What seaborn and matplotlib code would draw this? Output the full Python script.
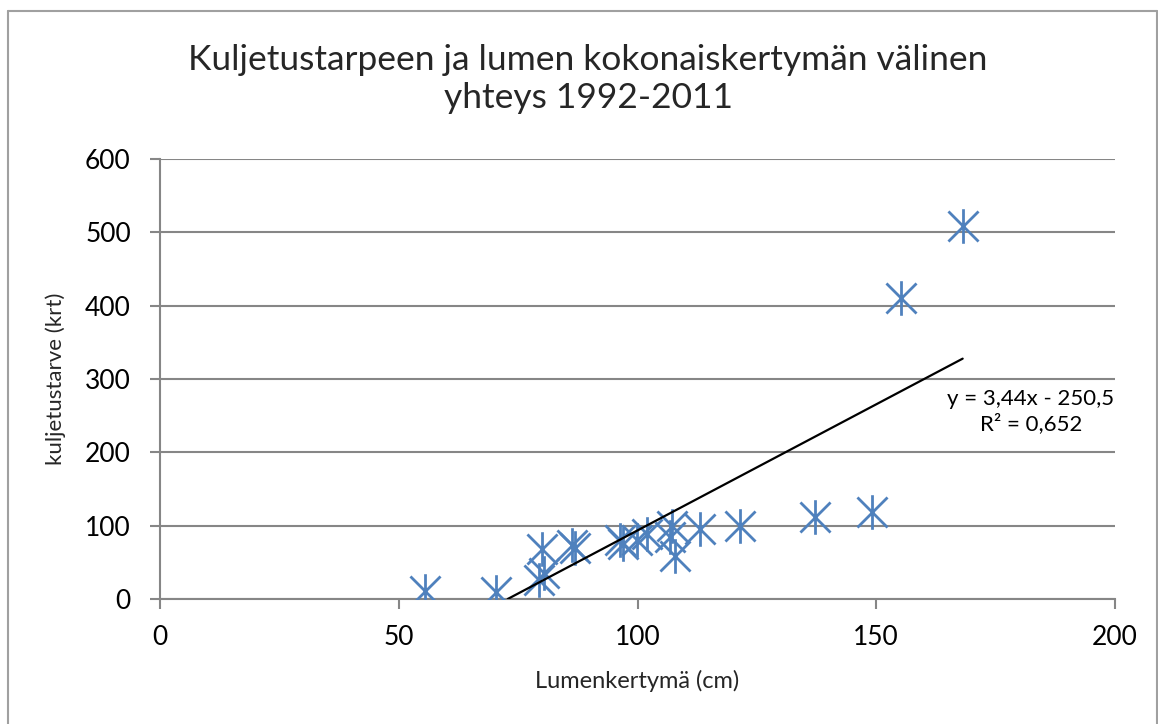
import numpy as np
import pandas as pd
import matplotlib
matplotlib.use("Agg")
import matplotlib.pyplot as plt
from matplotlib.path import Path
from matplotlib.lines import Line2D
import seaborn as sns

# --- Daten ---
lumenkertyma_cm = [55.4, 70.4, 79.9, 79.4, 80.5, 86.2, 87.0, 96.3, 97.0, 99.8,
                   101.9, 107.2, 107.9, 106.8, 113.1, 121.4, 137.2, 149.2, 155.1, 168.1]
kuljetustarve_krt = [11, 10, 68, 26, 35, 74, 70, 80, 75, 80,
                     89, 99, 58, 85, 96, 100, 112, 118, 411, 509]
trend_slope = 3.44
trend_intercept = -250.5
trend_label = "y = 3,44x - 250,5\nR² = 0,652"

title_text = "Kuljetustarpeen ja lumen kokonaiskertymän välinen\nyhteys 1992-2011"
x_label = "Lumenkertymä (cm)"
y_label = "kuljetustarve (krt)"
x_ticks = [0, 50, 100, 150, 200]
y_ticks = [0, 100, 200, 300, 400, 500, 600]

df = pd.DataFrame({"lumi": lumenkertyma_cm, "kuljetus": kuljetustarve_krt})

sns.set_theme(style="white")
plt.rcParams["font.family"] = ["Lato", "DejaVu Sans"]

BLUE = "#4F81BD"
GRID = "#868686"

fig = plt.figure(figsize=(11.58, 7.24), dpi=100)
ax = fig.add_axes([160 / 1158, 1 - 599 / 724, (1115 - 160) / 1158, (599 - 159) / 724])

# Excel-Stern: X mit senkrechtem Strich
star = Path([(-1, -1), (1, 1), (-1, 1), (1, -1), (0, -1.15), (0, 1.15)],
            [Path.MOVETO, Path.LINETO, Path.MOVETO, Path.LINETO, Path.MOVETO, Path.LINETO])

sns.scatterplot(data=df, x="lumi", y="kuljetus", ax=ax, marker=star, s=620,
                color=BLUE, edgecolor=BLUE, linewidth=2.0, legend=False, zorder=3)

# lineare Trendlinie, bei y=0 abgeschnitten
x0 = -trend_intercept / trend_slope
x1 = max(lumenkertyma_cm)
ax.plot([x0, x1], [trend_slope * x0 + trend_intercept, trend_slope * x1 + trend_intercept],
        color="black", linewidth=1.6, zorder=4)
ax.text(0.912, 0.425, trend_label, transform=ax.transAxes, ha="center", va="center",
        fontsize=16, linespacing=1.25, color="black")

ax.set_xlim(0, 200)
ax.set_ylim(0, 600)
ax.set_xticks(x_ticks)
ax.set_yticks(y_ticks)
ax.yaxis.grid(True, color=GRID, linewidth=1.5)
ax.xaxis.grid(False)
ax.set_axisbelow(True)
for side in ["top", "right"]:
    ax.spines[side].set_visible(False)
for side in ["left", "bottom"]:
    ax.spines[side].set_color(GRID)
    ax.spines[side].set_linewidth(1.5)
ax.tick_params(axis="both", which="major", direction="out", length=7, width=1.5,
               color=GRID, labelsize=19, labelcolor="black")
ax.tick_params(axis="y", pad=14)
ax.tick_params(axis="x", pad=12)
ax.tick_params(left=True, bottom=True)

ax.set_xlabel(x_label, fontsize=17, labelpad=14)
ax.set_ylabel(y_label, fontsize=16, labelpad=14)

fig.text(588 / 1158, 1 - 79 / 724, title_text, ha="center", va="center",
         fontsize=25.5, linespacing=1.25)

# Rahmen des Diagrammbereichs
frame = dict(color="#A0A0A0", linewidth=1.5, transform=fig.transFigure)
fig.add_artist(Line2D([8 / 1158, 8 / 1158], [0, 1 - 11 / 724], **frame))
fig.add_artist(Line2D([8 / 1158, 1157 / 1158], [1 - 11 / 724, 1 - 11 / 724], **frame))
fig.add_artist(Line2D([1157 / 1158, 1157 / 1158], [0, 1 - 11 / 724], **frame))

fig.savefig("out.png", dpi=100)
